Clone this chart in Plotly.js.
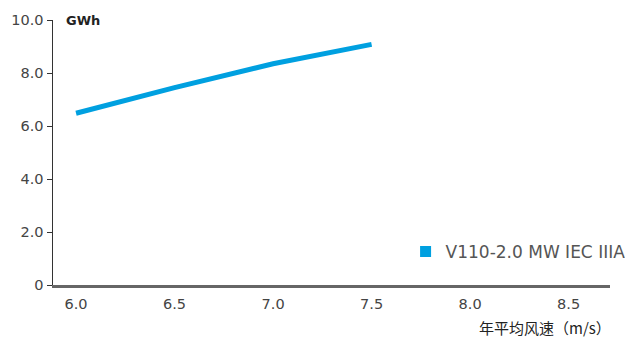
<!DOCTYPE html>
<html><head><meta charset="utf-8">
<script src="https://cdn.plot.ly/plotly-3.0.1.min.js"></script>
<style>html,body{margin:0;padding:0;background:#fff;}</style>
</head><body>
<div id="chart" style="width:625px;height:337px;"></div>
<script>
const windSpeed = [6.0, 6.5, 7.0, 7.5];
const energyGWh = [6.48, 7.45, 8.35, 9.08];
const seriesName = "V110-2.0 MW IEC IIIA";
const xTickVals = [6.0, 6.5, 7.0, 7.5, 8.0, 8.5];
const xTickText = ["6.0", "6.5", "7.0", "7.5", "8.0", "8.5"];
const yTickVals = [0, 2, 4, 6, 8, 10];
const yTickText = ["0", "2.0", "4.0", "6.0", "8.0", "10.0"];
const unitLabel = "GWh";
const xTitle = "年平均风速（m/s）";

const color = "#00a0e0";
const fontFam = "'DejaVu Sans', 'Noto Sans CJK SC', sans-serif";

const traces = [
  {x: windSpeed, y: energyGWh, mode: "lines", line: {color: color, width: 5, shape: "linear"},
   showlegend: false, hoverinfo: "none"},
  {x: [null], y: [null], mode: "markers", name: seriesName,
   marker: {symbol: "square", size: 11, color: color}, showlegend: true}
];

const layout = {
  width: 625, height: 337,
  margin: {l: 53, r: 15, t: 20, b: 52, autoexpand: false},
  paper_bgcolor: "#fff", plot_bgcolor: "#fff",
  font: {family: fontFam, size: 14, color: "#444"},
  xaxis: {range: [5.883, 8.71], tickvals: xTickVals, ticktext: xTickText,
    showgrid: false, zeroline: false, showline: true, linecolor: "#666", linewidth: 2.5,
    ticks: "", ticklabelstandoff: 4, tickfont: {size: 14.5, color: "#444"}},
  yaxis: {range: [0, 10], tickvals: yTickVals, ticktext: yTickText,
    showgrid: false, zeroline: false, showline: true, linecolor: "#333", linewidth: 1.5,
    ticks: "outside", ticklen: 5, tickcolor: "#333", tickwidth: 1,
    tickfont: {size: 14.5, color: "#444"}},
  legend: {x: 0.633, xanchor: "left", y: 0.125, yanchor: "middle",
    font: {size: 17, color: "#555"}, bgcolor: "rgba(0,0,0,0)", itemwidth: 30},
  annotations: [
    {text: "<b>" + unitLabel + "</b>", xref: "paper", yref: "paper", x: 0.02, y: 1,
     xanchor: "left", yanchor: "middle", showarrow: false,
     font: {size: 13, color: "#222", family: "'DejaVu Sans', sans-serif"}},
    {text: xTitle, xref: "paper", yref: "paper", x: 1.0, y: 0, yshift: -42, xshift: 3,
     xanchor: "right", yanchor: "middle", showarrow: false,
     font: {size: 15, color: "#222", family: "'Noto Sans CJK SC', sans-serif"}}
  ],
  showlegend: true
};
Plotly.newPlot("chart", traces, layout, {displayModeBar: false, staticPlot: true});
</script>
</body></html>
